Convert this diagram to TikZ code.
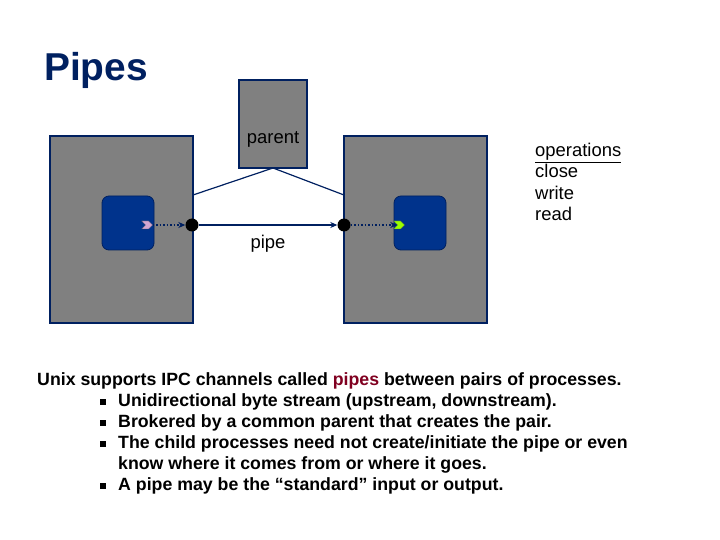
\documentclass[tikz,border=0pt]{standalone}
\usepackage{fontspec}
\setmainfont{Liberation Sans}
\usetikzlibrary{arrows.meta,shapes.symbols}
\definecolor{navy}{RGB}{0,32,96}
\definecolor{blu}{RGB}{0,51,140}
\definecolor{gry}{RGB}{128,128,128}
\definecolor{pipered}{RGB}{128,0,32}
\newcommand{\sqb}{\llap{\rule[1.5bp]{6bp}{6bp}\hspace{12bp}}}
\tikzset{proc/.style={draw=navy,line width=1.5pt,fill=gry},
 inner/.style={draw=navy,fill=blu,rounded corners=7bp,line width=0.8pt},
 dotn/.style={circle,fill=black,inner sep=0pt,minimum size=13bp},
 tag/.style={signal,signal to=east,signal from=west,draw=black!70,line width=0.3pt,minimum width=11bp,minimum height=8bp,inner sep=0pt},
 lbl/.style={font=\fontsize{18.5}{22}\selectfont}}
\begin{document}
\begin{tikzpicture}[x=1bp,y=-1bp]
\useasboundingbox (0,0) rectangle (720,540);
\node[font=\fontsize{39}{44}\selectfont\bfseries,text=navy,anchor=west,inner sep=0pt] (title) at (44,70) {Pipes};
\draw[proc] (50,136) rectangle (193,323);
\draw[proc] (344,136) rectangle (487,323);
\draw[proc] (239,80) rectangle (307,168);
\node[lbl] (parent) at (273,139) {parent};
\draw[inner] (102,196) rectangle (154,250);
\draw[inner] (394,196) rectangle (446,250);
\coordinate (ptop) at (273,168);
\coordinate (lside) at (193,195);
\coordinate (rside) at (344,195);
\draw[navy,line width=1.2pt] (lside) -- (ptop) -- (rside);
\node[dotn] (d1) at (192,225) {};
\node[dotn] (d2) at (344,225) {};
\node[tag,fill=violet!35] (t1) at (147,225) {};
\node[tag,fill=lime!80!green] (t2) at (399,225) {};
\draw[navy,dotted,line width=1.5pt,-{Stealth[length=7bp,width=6bp]}] (t1) -- (d1);
\draw[navy,dotted,line width=1.5pt,-{Stealth[length=7bp,width=6bp]}] (d2) -- (t2);
\draw[navy,line width=1.3pt,-{Stealth[length=7bp,width=6bp]}] (d1) -- (d2);
\node[lbl] (pipe) at (268,244) {pipe};
\node[anchor=north west,align=left,inner sep=0pt,font=\fontsize{18.5}{21.5}\selectfont] (ops) at (535,143) {\underline{operations}\\close\\write\\read};
\node[anchor=north west,align=left,inner sep=0pt,font=\fontsize{17.8}{21.2}\selectfont\bfseries] (body) at (37,372) {%
Unix supports IPC channels called \textcolor{pipered}{pipes} between pairs of processes.\\
\hspace*{81bp}\sqb Unidirectional byte stream (upstream, downstream).\\
\hspace*{81bp}\sqb Brokered by a common parent that creates the pair.\\
\hspace*{81bp}\sqb The child processes need not create/initiate the pipe or even\\
\hspace*{81bp}know where it comes from or where it goes.\\
\hspace*{81bp}\sqb A pipe may be the “standard” input or output.};
\end{tikzpicture}
\end{document}
